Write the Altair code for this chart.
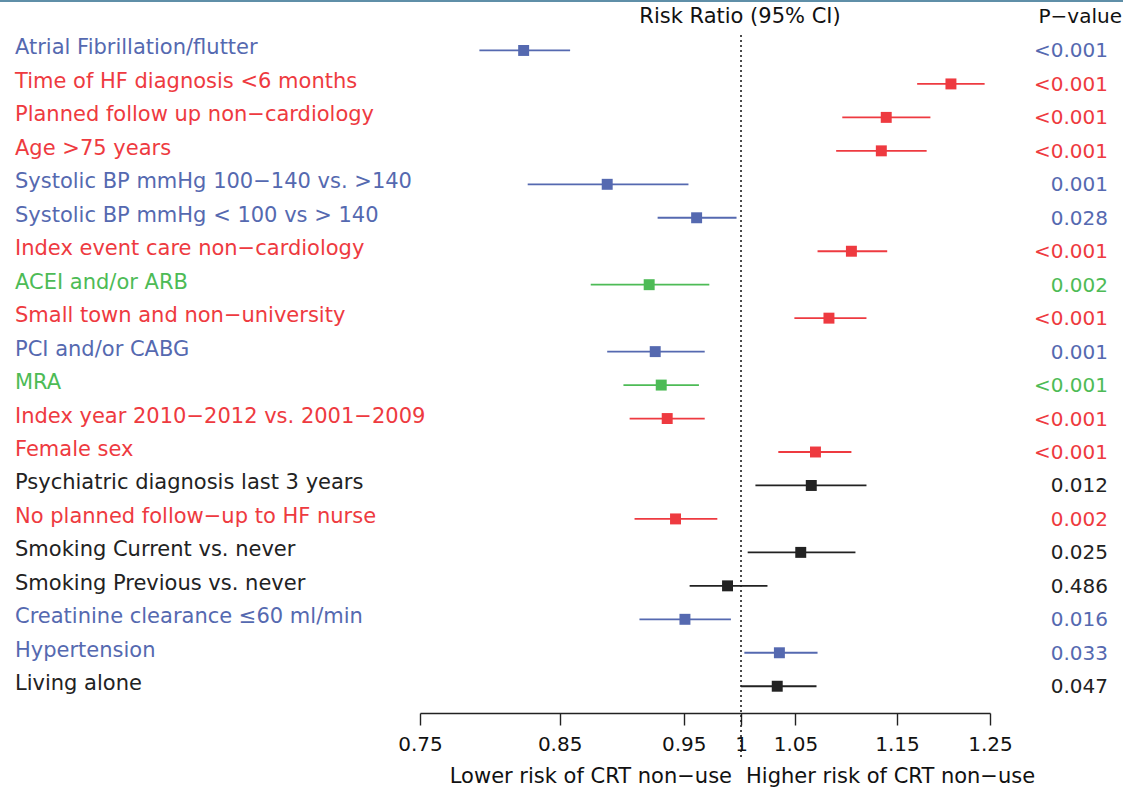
import altair as alt
import pandas as pd

labels = [
    "Atrial Fibrillation/flutter",
    "Time of HF diagnosis <6 months",
    "Planned follow up non\u2212cardiology",
    "Age >75 years",
    "Systolic BP mmHg 100\u2212140 vs. >140",
    "Systolic BP mmHg < 100 vs > 140",
    "Index event care non\u2212cardiology",
    "ACEI and/or ARB",
    "Small town and non\u2212university",
    "PCI and/or CABG",
    "MRA",
    "Index year 2010\u22122012 vs. 2001\u22122009",
    "Female sex",
    "Psychiatric diagnosis last 3 years",
    "No planned follow\u2212up to HF nurse",
    "Smoking Current vs. never",
    "Smoking Previous vs. never",
    "Creatinine clearance \u226460 ml/min",
    "Hypertension",
    "Living alone",
]
groups = ["blue", "red", "red", "red", "blue", "blue", "red", "green", "red", "blue",
          "green", "red", "red", "black", "red", "black", "black", "blue", "blue", "black"]
rr = [0.823, 1.207, 1.139, 1.134, 0.887, 0.961, 1.104, 0.921, 1.082, 0.926,
      0.931, 0.936, 1.069, 1.065, 0.943, 1.055, 0.988, 0.951, 1.035, 1.033]
lower = [0.791, 1.171, 1.095, 1.089, 0.826, 0.928, 1.071, 0.874, 1.049, 0.887,
         0.900, 0.905, 1.034, 1.013, 0.909, 1.006, 0.955, 0.913, 1.003, 1.000]
upper = [0.858, 1.244, 1.185, 1.181, 0.954, 0.996, 1.140, 0.972, 1.119, 0.968,
         0.963, 0.968, 1.104, 1.119, 0.979, 1.108, 1.024, 0.991, 1.071, 1.070]
pvals = ["<0.001", "<0.001", "<0.001", "<0.001", "0.001", "0.028", "<0.001", "0.002", "<0.001", "0.001",
         "<0.001", "<0.001", "<0.001", "0.012", "0.002", "0.025", "0.486", "0.016", "0.033", "0.047"]
tick_values = [0.75, 0.85, 0.95, 1, 1.05, 1.15, 1.25]

group_names = ["blue", "red", "green", "black"]
point_colors = ["#3552a3", "#ec2027", "#3db54a", "#000000"]
line_colors = ["#5569b0", "#ee3a40", "#4dbb56", "#222222"]
text_colors = ["#4a5fb0", "#ee2a30", "#3cb44b", "#111111"]

df = pd.DataFrame({
    "label": labels, "group": groups, "rr": rr, "lo": lower, "hi": upper,
    "p": pvals, "row": list(range(1, len(labels) + 1)),
})

FONT = "DejaVu Sans"
FS = 21
FSN = 20
W, H = 570, 696
LEFT, TOP = 420, 17

xs = alt.Scale(type="log", domain=[0.75, 1.25], nice=False, zero=False)
ys = alt.Scale(domain=[0, 20.8], nice=False, zero=False, range=[0, H])
yenc = alt.Y("row:Q", scale=ys, axis=None)

base = alt.Chart(df)

ci = base.mark_rule(strokeWidth=1.8).encode(
    x=alt.X("lo:Q", scale=xs, axis=alt.Axis(
        values=tick_values, format="~g", grid=False, tickSize=12, tickColor="#222",
        domainColor="#222", domainWidth=1.4, tickWidth=1.4, labelFontSize=FSN,
        labelFont=FONT, labelColor="#111", labelPadding=9, title=None,
        labelFlush=False, labelOverlap=False)),
    x2="hi:Q",
    y=yenc,
    color=alt.Color("group:N", scale=alt.Scale(domain=group_names, range=line_colors), legend=None),
)

pts = base.mark_square(size=120, opacity=1).encode(
    x=alt.X("rr:Q", scale=xs),
    y=yenc,
    color=alt.Color("group:N", scale=alt.Scale(domain=group_names, range=point_colors), legend=None),
)

lab = base.mark_text(align="left", baseline="middle", font=FONT, fontSize=FS, dy=-2).encode(
    x=alt.value(15 - LEFT),
    y=yenc,
    text="label:N",
    color=alt.Color("group:N", scale=alt.Scale(domain=group_names, range=text_colors), legend=None),
)

pv = base.mark_text(align="right", baseline="middle", font=FONT, fontSize=FSN, dy=1).encode(
    x=alt.value(1108 - LEFT),
    y=yenc,
    text="p:N",
    color=alt.Color("group:N", scale=alt.Scale(domain=group_names, range=text_colors), legend=None),
)

ref = alt.Chart(pd.DataFrame({"v": [1.0]})).mark_rule(
    strokeDash=[2, 3], strokeWidth=1.5, color="#111").encode(
    x=alt.X("v:Q", scale=xs), y=alt.value(18), y2=alt.value(740))

hdr = pd.DataFrame({
    "t": ["Risk Ratio (95% CI)", "P\u2212value", "Lower risk of CRT non\u2212use", "Higher risk of CRT non\u2212use"],
    "px": [740 - LEFT, 1122 - LEFT, 732 - LEFT, 746 - LEFT],
    "py": [17 - TOP, 17 - TOP, 777 - TOP, 777 - TOP],
    "al": ["center", "right", "right", "left"],
    "fs": [FS, FSN, FS, FS],
})
hdr_layers = []
for _, r in hdr.iterrows():
    hdr_layers.append(
        alt.Chart(pd.DataFrame({"t": [r["t"]]})).mark_text(
            align=r["al"], baseline="middle", font=FONT, fontSize=int(r["fs"]), color="#111").encode(
            x=alt.value(r["px"]), y=alt.value(r["py"]), text="t:N"))

border = alt.Chart(pd.DataFrame({"a": [0]})).mark_rule(color="#5f8fa8", strokeWidth=2).encode(
    x=alt.value(-LEFT), x2=alt.value(1123 - LEFT), y=alt.value(1 - TOP))

chart = alt.layer(border, ref, ci, pts, lab, pv, *hdr_layers).properties(
    width=W, height=H,
    background="white",
    autosize=alt.AutoSizeParams(type="none"),
    padding={"left": LEFT, "top": TOP, "right": 1123 - LEFT - W, "bottom": 787 - TOP - H},
).configure_view(strokeWidth=0, stroke=None)

chart.save("out.html", embed_options={"renderer": "svg", "actions": False})
